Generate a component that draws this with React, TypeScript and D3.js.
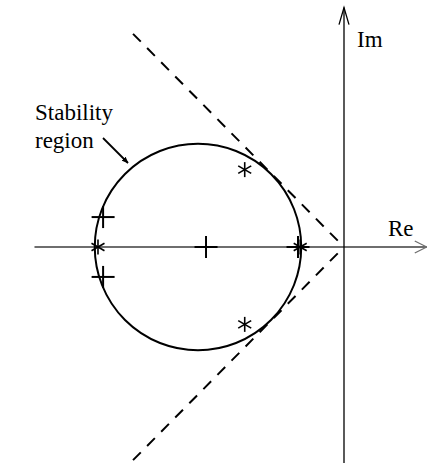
import React from 'react';
import * as d3 from 'd3';

// complex plane values (re, im)
const circleCenter = [-1, 0];
const circleRadius = 0.7071;
const plusPoints: [number, number][] = [
	[-1.65, 0.205],
	[-1.65, -0.205],
	[-0.945, 0],
	[-0.315, 0]
];
const starPoints: [number, number][] = [
	[-0.68, 0.53],
	[-0.68, -0.53],
	[-1.685, 0],
	[-0.3, 0]
];
const wedgeLines: [number, number][][] = [
	[[-1.445, 1.46], [0, 0]],
	[[-1.445, -1.46], [0, 0]]
];
const reAxis = [-2.12, 0.56];
const imAxis = [-1.48, 1.64];
const axisLabels = ['Re', 'Im'];
const annotation = ['Stability', 'region'];

const width = 427;
const height = 466;
const unit = 146;

export default function App() {
	const x = d3.scaleLinear().domain([0, 1]).range([344, 344 + unit]);
	const y = d3.scaleLinear().domain([0, 1]).range([247, 247 - unit]);
	const line = d3.line<[number, number]>().x(d => x(d[0])).y(d => y(d[1]));

	const font = { fontFamily: "'Liberation Serif', 'DejaVu Serif', serif", fontSize: 23 };

	return (
		<svg width={width} height={height} style={{ position: 'absolute', left: 0, top: 0, background: '#fff' }}>
			<defs>
				<marker id="fill-arrow" viewBox="0 0 10 10" refX="9" refY="5" markerWidth="7" markerHeight="7" orient="auto" markerUnits="userSpaceOnUse">
					<path d="M0,1 L10,5 L0,9 z" fill="#000" />
				</marker>
			</defs>

			{/* real axis */}
			<line x1={x(reAxis[0])} x2={x(reAxis[1]) + 1} y1={y(0)} y2={y(0)} stroke="#6e6e6e" strokeWidth={2} />
			<path d={`M${x(reAxis[1]) - 11},${y(0) - 6} L${x(reAxis[1]) + 1},${y(0)} L${x(reAxis[1]) - 11},${y(0) + 6}`} fill="none" stroke="#6e6e6e" strokeWidth={1.3} />

			{/* imaginary axis */}
			<line x1={x(0)} x2={x(0)} y1={y(imAxis[0])} y2={y(imAxis[1])} stroke="#000" strokeWidth={1.3} />
			<path d={`M${x(0) - 5},${y(imAxis[1]) + 17} L${x(0)},${y(imAxis[1])} L${x(0) + 5},${y(imAxis[1]) + 17}`} fill="none" stroke="#000" strokeWidth={1.3} />

			{/* stability wedge */}
			{wedgeLines.map((l, i) => (
				<path key={i} d={line(l) || ''} fill="none" stroke="#000" strokeWidth={2} strokeDasharray="11,9" />
			))}

			{/* stability circle */}
			<circle cx={x(circleCenter[0])} cy={y(circleCenter[1])} r={circleRadius * unit} fill="none" stroke="#000" strokeWidth={2} />

			{plusPoints.map((p, i) => (
				<g key={i} transform={`translate(${x(p[0])},${y(p[1])})`} stroke="#000" strokeWidth={2}>
					<line x1={-11.5} x2={11.5} y1={0} y2={0} />
					<line x1={0} x2={0} y1={-11} y2={11} />
				</g>
			))}

			{starPoints.map((p, i) => (
				<g key={i} transform={`translate(${x(p[0])},${y(p[1])})`} stroke="#000" strokeWidth={1.6}>
					{[90, 30, -30].map(a => {
						const r = 7.5;
						const dx = r * Math.cos((a * Math.PI) / 180);
						const dy = r * Math.sin((a * Math.PI) / 180);
						return <line key={a} x1={-dx} y1={-dy} x2={dx} y2={dy} />;
					})}
				</g>
			))}

			<text x={388} y={236} style={font}>{axisLabels[0]}</text>
			<text x={357} y={47} style={font}>{axisLabels[1]}</text>

			<text x={35} y={120} style={font}>{annotation[0]}</text>
			<text x={35} y={148} style={font}>{annotation[1]}</text>
			<line x1={103} y1={138} x2={128} y2={163} stroke="#000" strokeWidth={1.8} markerEnd="url(#fill-arrow)" />
		</svg>
	);
}
